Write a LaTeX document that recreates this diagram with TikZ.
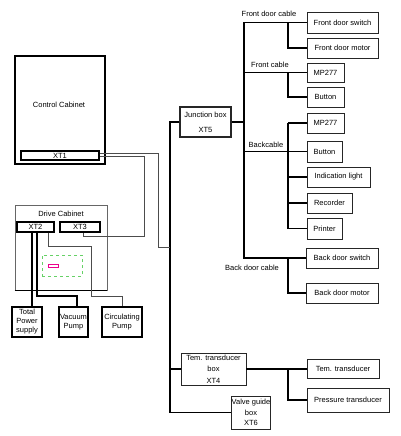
\documentclass[tikz,border=0pt]{standalone}
\usepackage{fontspec}
\setmainfont{Liberation Sans}
\usepackage{tikz}

\tikzset{
  box/.style={draw=black!85, line width=0.8pt, inner sep=0.5pt, align=center, font=\fontsize{7.5}{9}\selectfont},
  heavybox/.style={box, draw=black, line width=1.6pt},
  wire/.style={line width=1.6pt},
  lightwire/.style={line width=0.8pt},
  thinwire/.style={line width=0.8pt, black!70},
  cabletext/.style={font=\fontsize{7.5}{8.5}\selectfont, inner sep=0pt}
}

\begin{document}
\begin{tikzpicture}[x=1pt,y=-1pt]
\useasboundingbox (0,0) rectangle (400,436);

%Control cabinet
\node[box, draw=black, line width=1.4pt, minimum width=90pt, minimum height=108pt] (cc) at (60,110) {};
\node[cabletext] (cctext) at (59,105) {Control Cabinet};
\node[heavybox, minimum width=78pt, minimum height=9pt] (xt1) at (60,155.5) {XT1};

%Drive cabinet
\node[box, draw=black!60, minimum width=92pt, minimum height=85pt] (dc) at (61,247.5) {};
\node[cabletext] (dctext) at (61,214) {Drive Cabinet};
\node[heavybox, minimum width=37pt, minimum height=10pt] (xt2) at (35.5,227) {XT2};
\node[heavybox, minimum width=40pt, minimum height=10pt] (xt3) at (80,227) {XT3};
\node[draw=green!70!black!60, dashed, line width=0.6pt, minimum width=40pt, minimum height=21pt, inner sep=0pt] (pad) at (62,265.5) {};
\node[draw=magenta, line width=0.6pt, minimum width=10pt, minimum height=3pt, inner sep=0pt] (led) at (53,265.5) {};
\draw[line width=1.6pt] (dc.south west) -- (dc.south east);

\node[heavybox, minimum width=30pt, minimum height=30pt] (tps) at (27,322) {Total\\Power\\supply};
\node[heavybox, minimum width=29pt, minimum height=30pt] (vac) at (73.5,322) {Vacuum\\Pump};
\node[heavybox, minimum width=40pt, minimum height=30pt] (circ) at (122,322) {Circulating\\Pump};

%Junction boxes on the trunk
\node[box, line width=1.2pt, minimum width=51pt, minimum height=30pt, font=\fontsize{7.5}{15}\selectfont] (xt5) at (205.5,122) {Junction box\\XT5};
\node[box, minimum width=65pt, minimum height=32pt, font=\fontsize{7.5}{11.5}\selectfont] (xt4) at (213.5,369) {Tem. transducer\\box\\XT4};
\node[box, minimum width=38pt, minimum height=33pt, font=\fontsize{7.5}{10.5}\selectfont] (xt6) at (251,412.5) {Valve guide\\box\\XT6};

%Devices
\node[box, minimum width=71pt, minimum height=21pt] (fds) at (342.5,22.5) {Front door switch};
\node[box, minimum width=71pt, minimum height=20pt] (fdm) at (342.5,48) {Front door motor};
\node[box, minimum width=37pt, minimum height=19pt] (mpf) at (325.5,72.5) {MP277};
\node[box, minimum width=37pt, minimum height=20pt] (btf) at (325.5,97) {Button};
\node[box, minimum width=37pt, minimum height=20pt] (mpb) at (325.5,123) {MP277};
\node[box, minimum width=35pt, minimum height=21pt] (btb) at (324.5,151.5) {Button};
\node[box, minimum width=63pt, minimum height=20pt] (ind) at (338.5,177) {Indication light};
\node[box, minimum width=45pt, minimum height=20pt] (rec) at (329.5,203) {Recorder};
\node[box, minimum width=35pt, minimum height=21pt] (prn) at (324.5,228.5) {Printer};
\node[box, minimum width=72pt, minimum height=20pt] (bds) at (342,258) {Back door switch};
\node[box, minimum width=72pt, minimum height=20pt] (bdm) at (342,293) {Back door motor};
\node[box, minimum width=72pt, minimum height=19pt] (ttr) at (343,369) {Tem. transducer};
\node[box, minimum width=82pt, minimum height=24pt] (ptr) at (348,400) {Pressure transducer};

%Cable names
\node[cabletext] (fdc) at (269,14) {Front door cable};
\node[cabletext] (fc) at (270,65) {Front cable};
\node[cabletext] (bc) at (266,145) {Backcable};
\node[cabletext] (bdc) at (252,268) {Back door cable};

%Bend points
\coordinate (trunk) at (170,412.5);
\coordinate (bus) at (244,0); \coordinate (sub) at (288,0);
\coordinate (t1) at (158,247); \coordinate (t2) at (144,236);
\coordinate (tpin) at (32,307); \coordinate (vabend) at (37,296);
\coordinate (cb1) at (48,246); \coordinate (cb2) at (91,296);

%Trunk
\draw[wire] (xt5.west) -| (trunk) -- (xt6.west);
\draw[wire] (xt4.west) -- (xt4.west -| trunk);
\draw[thinwire] ([yshift=2.5pt]xt1.east) -| (t1) -- (t1 -| trunk);
\draw[thinwire] ([yshift=-0.5pt]xt1.east) -| (t2) -| ([xshift=3pt]xt3.south);

%Drive cabinet wiring
\draw[wire] (tpin) -- (tpin |- xt2.south);
\draw[wire] (xt2.south -| vabend) -- (vabend) -| ([xshift=3.5pt]vac.north);
\draw[thinwire] (xt2.south -| cb1) -- (cb1) -| (cb2) -| (circ.north);

%Bus from junction box XT5
\draw[wire] (xt5.east) -- (xt5.east -| bus);
\draw[wire] (fds.west) -- (fds.west -| bus) -- (bds.west -| bus) -- (bds.west);
\draw[lightwire] (mpf.west -| bus) -- (mpf.west); \draw[lightwire] (btb.west -| bus) -- (btb.west);

\draw[wire] (sub |- fds.west) |- (fdm.west);
\draw[wire] (sub |- mpf.west) |- (btf.west);
\draw[wire] (sub |- mpb.west) -- (sub |- prn.west);
\foreach \n in {mpb,ind,rec,prn} \draw[wire] (sub |- \n.west) -- (\n.west);
\draw[wire] (sub |- bds.west) |- (bdm.west);

%Transducers
\draw[wire] (xt4.east) -- (ttr.west);
\draw[wire] (sub |- ttr.west) |- (ptr.west);

\end{tikzpicture}
\end{document}
